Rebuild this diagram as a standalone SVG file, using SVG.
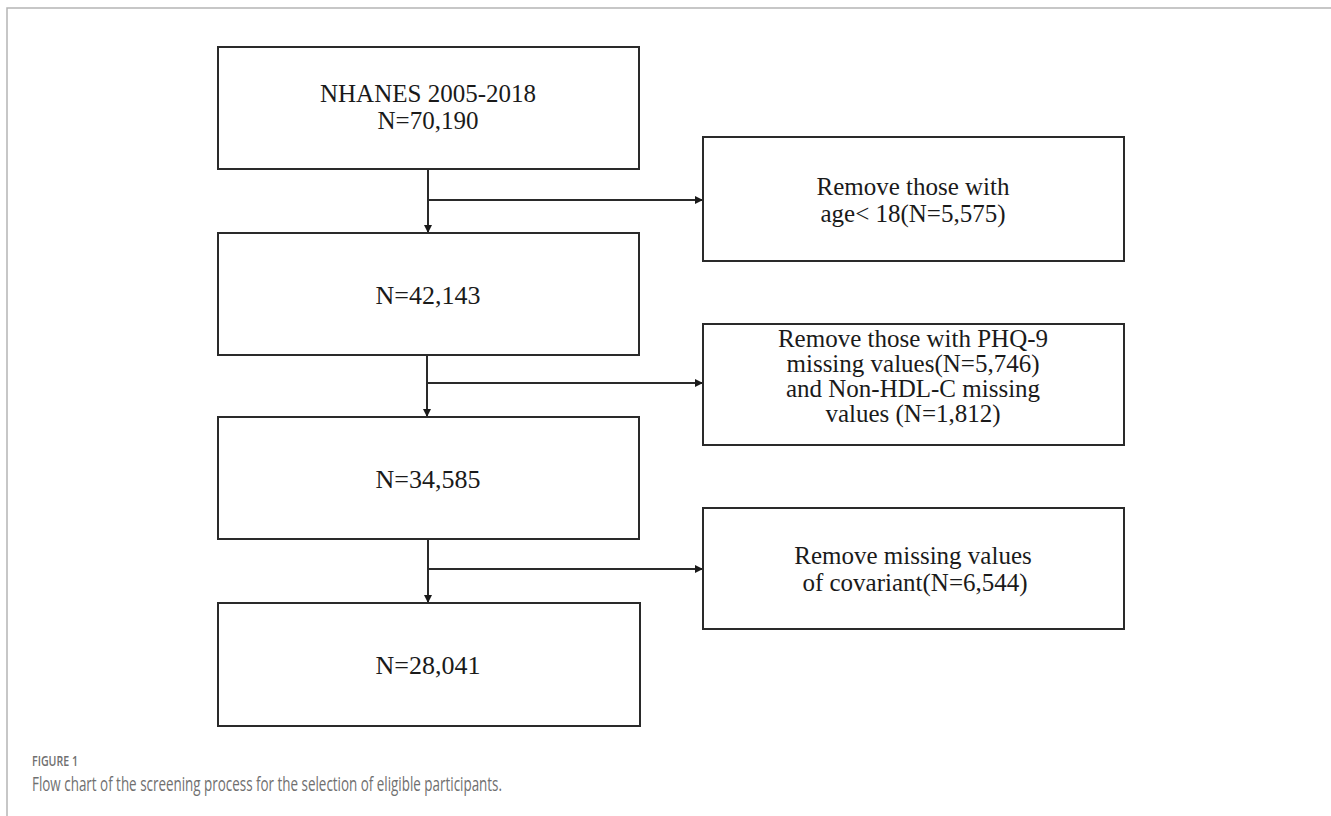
<svg xmlns="http://www.w3.org/2000/svg" width="1331" height="816" viewBox="0 0 1331 816">
<style>
.box{fill:#fff;stroke:#2a2a2a;stroke-width:2}
.t{font-family:"Liberation Serif","Times New Roman",serif;font-size:26px;fill:#1a1a1a;text-anchor:middle}
.t2{font-size:25px}
.c{fill:none;stroke:#2a2a2a;stroke-width:2}
.frame{fill:none;stroke:#b5b5b5;stroke-width:1.5}
.cap{font-family:"Open Sans","Liberation Sans",sans-serif;fill:#707070}
</style>
<defs>
<marker id="ah" viewBox="0 0 10 10" refX="10" refY="5" markerWidth="4" markerHeight="4" orient="auto" markerUnits="strokeWidth">
<path d="M0,0 L10,5 L0,10 z" fill="#1a1a1a"/>
</marker>
</defs>
<rect width="1331" height="816" fill="#fff"/>
<path class="frame" d="M7,816 V8 H1331"/>
<g id="connectors">
<line class="c" x1="428" y1="169" x2="428" y2="233" marker-end="url(#ah)"/>
<line class="c" x1="428" y1="200" x2="703" y2="200" marker-end="url(#ah)"/>
<line class="c" x1="427" y1="355" x2="427" y2="417" marker-end="url(#ah)"/>
<line class="c" x1="427" y1="383" x2="703" y2="383" marker-end="url(#ah)"/>
<line class="c" x1="428" y1="539" x2="428" y2="603" marker-end="url(#ah)"/>
<line class="c" x1="428" y1="569" x2="703" y2="569" marker-end="url(#ah)"/>
</g>
<g id="n1">
<rect class="box" x="218" y="47" width="421" height="122"/>
<text class="t t2" x="428" y="102">NHANES 2005-2018</text>
<text class="t t2" x="428" y="129">N=70,190</text>
</g>
<g id="n2">
<rect class="box" x="218" y="233" width="421" height="122"/>
<text class="t" x="428" y="304">N=42,143</text>
</g>
<g id="n3">
<rect class="box" x="218" y="417" width="421" height="122"/>
<text class="t" x="428" y="488">N=34,585</text>
</g>
<g id="n4">
<rect class="box" x="218" y="603" width="422" height="123"/>
<text class="t" x="428" y="674">N=28,041</text>
</g>
<g id="r1">
<rect class="box" x="703" y="137" width="421" height="124"/>
<text class="t t2" x="913" y="195">Remove those with</text>
<text class="t t2" x="913" y="222">age&lt; 18(N=5,575)</text>
</g>
<g id="r2">
<rect class="box" x="703" y="324" width="421" height="121"/>
<text class="t t2" x="913" y="347">Remove those with PHQ-9</text>
<text class="t t2" x="913" y="372">missing values(N=5,746)</text>
<text class="t t2" x="913" y="397">and Non-HDL-C missing</text>
<text class="t t2" x="913" y="422">values (N=1,812)</text>
</g>
<g id="r3">
<rect class="box" x="703" y="508" width="421" height="121"/>
<text class="t t2" x="913" y="564">Remove missing values</text>
<text class="t t2" x="915" y="591">of covariant(N=6,544)</text>
</g>
<g id="caption">
<text class="cap" x="32" y="766" font-size="14" font-weight="600" textLength="46" lengthAdjust="spacingAndGlyphs">FIGURE 1</text>
<text class="cap" x="32" y="791" font-size="20" textLength="470" lengthAdjust="spacingAndGlyphs">Flow chart of the screening process for the selection of eligible participants.</text>
</g>
</svg>
